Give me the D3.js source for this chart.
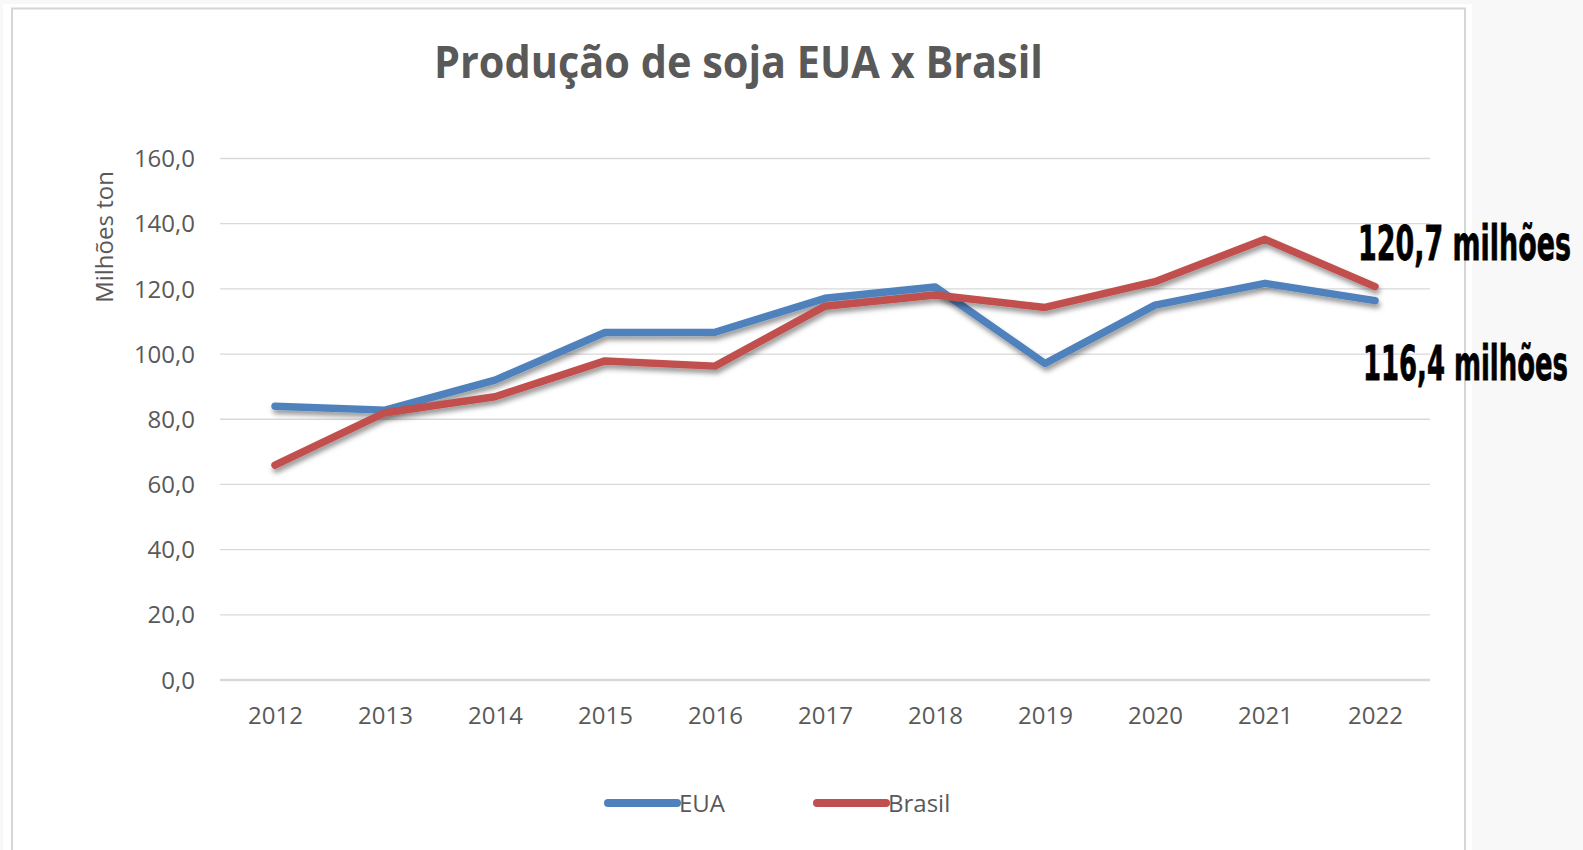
<!DOCTYPE html>
<html>
<head>
<meta charset="utf-8">
<script src="https://cdn.jsdelivr.net/npm/d3@7"></script>
<style>
  html, body { margin: 0; padding: 0; background: #f8f8f8; }
  svg { display: block; }
</style>
</head>
<body>
<svg id="chart" width="1583" height="850"></svg>
<script>
// ---- data ----
const years = ["2012","2013","2014","2015","2016","2017","2018","2019","2020","2021","2022"];
const eua = [84.0, 82.8, 92.0, 106.6, 106.7, 117.1, 120.6, 97.1, 115.0, 121.7, 116.4];
const brasil = [65.9, 82.0, 86.9, 97.9, 96.3, 114.7, 118.1, 114.3, 122.2, 135.2, 120.7];
const yTicks = [0, 20, 40, 60, 80, 100, 120, 140, 160];
const seriesNames = ["EUA", "Brasil"];
const annotations = ["120,7 milhões", "116,4 milhões"];
const titleText = "Produção de soja EUA x Brasil";
const yTitle = "Milhões ton";

// ---- layout ----
const svg = d3.select("#chart");
const plot = { left: 220, right: 1430, top: 158.5, bottom: 680 };
const colors = { EUA: "#4f81bd", Brasil: "#c0504d" };
const textColor = "#595959";
const font = "'Open Sans', 'DejaVu Sans', sans-serif";

const defs = svg.append("defs");
const f = defs.append("filter").attr("id", "shadow")
  .attr("x", "-5%").attr("y", "-20%").attr("width", "110%").attr("height", "160%");
f.append("feDropShadow").attr("dx", 1.5).attr("dy", 4).attr("stdDeviation", 2.5)
  .attr("flood-color", "#000").attr("flood-opacity", 0.4);

// backgrounds
svg.append("rect").attr("x", 0).attr("y", 0).attr("width", 1583).attr("height", 850).attr("fill", "#f8f8f8");
svg.append("rect").attr("x", 3).attr("y", 4).attr("width", 1469).attr("height", 860).attr("fill", "#ffffff");
svg.append("rect").attr("x", 12).attr("y", 8.5).attr("width", 1453).attr("height", 860)
  .attr("fill", "#ffffff").attr("stroke", "#d6d6d6").attr("stroke-width", 2);

// scales
const x = d3.scalePoint().domain(years).range([plot.left, plot.right]).padding(0.5);
const y = d3.scaleLinear().domain([0, 160]).range([plot.bottom, plot.top]);
const fmt = v => d3.format(".1f")(v).replace(".", ",");

// gridlines
svg.append("g").selectAll("line").data(yTicks).join("line")
  .attr("x1", plot.left).attr("x2", plot.right)
  .attr("y1", d => y(d)).attr("y2", d => y(d))
  .attr("stroke", "#d9d9d9")
  .attr("stroke-width", d => d === 0 ? 2.5 : 1.3);

// y axis labels
const yAxis = d3.axisLeft(y).tickValues(yTicks).tickFormat(fmt).tickSize(0).tickPadding(0);
const gy = svg.append("g").attr("transform", `translate(195,0)`).call(yAxis);
gy.select(".domain").remove();
gy.selectAll("text").attr("fill", textColor).style("font-family", font).style("font-size", "24px")
  .attr("dy", "0.34em");

// x axis labels
const xAxis = d3.axisBottom(x).tickSize(0).tickPadding(0);
const gx = svg.append("g").attr("transform", `translate(0,${plot.bottom})`).call(xAxis);
gx.select(".domain").remove();
gx.selectAll("text").attr("fill", textColor).style("font-family", font).style("font-size", "24px")
  .attr("y", 44).attr("dy", "0");

// y title
svg.append("text")
  .attr("transform", "translate(113,237) rotate(-90)")
  .attr("text-anchor", "middle")
  .attr("fill", textColor).style("font-family", font).style("font-size", "24px")
  .text(yTitle);

// title
svg.append("text")
  .attr("x", 434).attr("y", 78)
  .attr("textLength", 609).attr("lengthAdjust", "spacingAndGlyphs")
  .attr("fill", textColor).style("font-family", font).style("font-weight", "700").style("font-size", "44px")
  .text(titleText);

// lines
const line = d3.line().x((d, i) => x(years[i])).y(d => y(d));
const series = [{ name: "EUA", values: eua }, { name: "Brasil", values: brasil }];
svg.append("g").selectAll("path").data(series).join("path")
  .attr("d", d => line(d.values))
  .attr("fill", "none")
  .attr("stroke", d => colors[d.name])
  .attr("stroke-width", 7.5)
  .attr("stroke-linecap", "round")
  .attr("stroke-linejoin", "round")
  .attr("filter", "url(#shadow)");

// legend
const legendItems = [
  { name: seriesNames[0], x1: 608, x2: 677, tx: 679 },
  { name: seriesNames[1], x1: 817, x2: 886, tx: 888 }
];
const lg = svg.append("g");
lg.selectAll("line").data(legendItems).join("line")
  .attr("x1", d => d.x1).attr("x2", d => d.x2).attr("y1", 803).attr("y2", 803)
  .attr("stroke", d => colors[d.name]).attr("stroke-width", 8).attr("stroke-linecap", "round");
lg.selectAll("text").data(legendItems).join("text")
  .attr("x", d => d.tx).attr("y", 812)
  .attr("fill", textColor).style("font-family", font).style("font-size", "24px")
  .text(d => d.name);

// annotations
const ann = [
  { text: annotations[0], x: 1358, y: 260, w: 213 },
  { text: annotations[1], x: 1363, y: 380, w: 205 }
];
svg.append("g").selectAll("text").data(ann).join("text")
  .attr("x", d => d.x).attr("y", d => d.y)
  .attr("textLength", d => d.w).attr("lengthAdjust", "spacingAndGlyphs")
  .attr("fill", "#000").attr("stroke", "#000").attr("stroke-width", 0.8)
  .style("font-family", "'DejaVu Sans', sans-serif").style("font-weight", "700").style("font-size", "48px")
  .text(d => d.text);
</script>
</body>
</html>
